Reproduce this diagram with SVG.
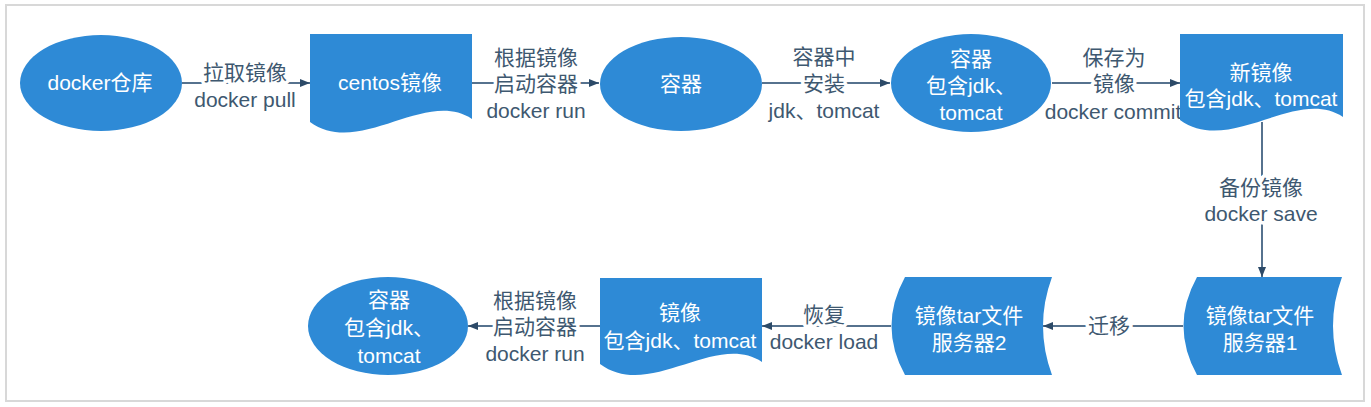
<svg xmlns="http://www.w3.org/2000/svg" width="1371" height="407" viewBox="0 0 1371 407">
<style>
.n{fill:#2e8ad6}
.t{font-family:"Liberation Sans","Noto Sans CJK SC",sans-serif;font-size:21px;fill:#ffffff;text-anchor:middle;dominant-baseline:central}
.l{font-family:"Liberation Sans","Noto Sans CJK SC",sans-serif;font-size:21px;fill:#3e5870;text-anchor:middle;dominant-baseline:central;stroke:#ffffff;stroke-width:7;stroke-linejoin:round;paint-order:stroke}
.e{stroke:#56728e;stroke-width:2;fill:none;marker-end:url(#a)}
</style>
<defs>
<marker id="a" viewBox="0 0 10 10" refX="10" refY="5" markerWidth="10" markerHeight="10" markerUnits="userSpaceOnUse" orient="auto">
<path d="M0,1 L10,5 L0,9 Z" fill="#2c4a68"/>
</marker>
</defs>
<rect x="0" y="0" width="1371" height="407" fill="#ffffff"/>
<rect x="6" y="5" width="1358" height="396" fill="none" stroke="#d8d8d8" stroke-width="2"/>
<g id="connectors">
<path class="e" d="M182,83 H310"/>
<path class="e" d="M472,83 H599"/>
<path class="e" d="M762,83 H890"/>
<path class="e" d="M1052,83 H1180"/>
<path class="e" d="M1262,122 V277"/>
<path class="e" d="M1183,326 H1043"/>
<path class="e" d="M891,326 H762"/>
<path class="e" d="M600,326 H468"/>
<rect x="1238" y="176" width="48" height="48" fill="#ffffff"/>
<text class="l" x="245" y="72">拉取镜像</text>
<text class="l" x="245" y="99">docker pull</text>
<text class="l" x="536" y="57">根据镜像</text>
<text class="l" x="536" y="83">启动容器</text>
<text class="l" x="536" y="110">docker run</text>
<text class="l" x="824" y="56">容器中</text>
<text class="l" x="824" y="83">安装</text>
<text class="l" x="824" y="110">jdk、tomcat</text>
<text class="l" x="1114" y="57">保存为</text>
<text class="l" x="1114" y="83">镜像</text>
<text class="l" x="1113" y="111">docker commit</text>
<text class="l" x="1261" y="187">备份镜像</text>
<text class="l" x="1261" y="213">docker save</text>
<text class="l" x="1109" y="325">迁移</text>
<text class="l" x="824" y="314">恢复</text>
<text class="l" x="824" y="341">docker load</text>
<text class="l" x="535" y="300">根据镜像</text>
<text class="l" x="535" y="326">启动容器</text>
<text class="l" x="535" y="353">docker run</text>
</g>
<g id="n1">
<ellipse class="n" cx="101" cy="83" rx="81" ry="48"/>
<text class="t" x="100" y="82">docker仓库</text>
</g>
<g id="n2">
<path class="n" d="M310,34 H472 V119 C425,88 360,158 310,122 Z"/>
<text class="t" x="390" y="82">centos镜像</text>
</g>
<g id="n3">
<ellipse class="n" cx="681" cy="84" rx="81" ry="47"/>
<text class="t" x="681" y="83">容器</text>
</g>
<g id="n4">
<ellipse class="n" cx="971" cy="83" rx="80" ry="49"/>
<text class="t" x="971" y="58">容器</text>
<text class="t" x="971" y="85">包含jdk、</text>
<text class="t" x="971" y="112">tomcat</text>
</g>
<g id="n5">
<path class="n" d="M1180,34 H1343 V117 C1296,86 1230,156 1180,120 Z"/>
<text class="t" x="1261" y="72">新镜像</text>
<text class="t" x="1261" y="98">包含jdk、tomcat</text>
</g>
<g id="n6">
<path class="n" d="M1197,277 H1342 Q1324,326 1342,375 H1197 Q1170,326 1197,277 Z"/>
<text class="t" x="1260" y="315">镜像tar文件</text>
<text class="t" x="1260" y="342">服务器1</text>
</g>
<g id="n7">
<path class="n" d="M905,277 H1052 Q1034,326 1052,375 H905 Q878,326 905,277 Z"/>
<text class="t" x="969" y="315">镜像tar文件</text>
<text class="t" x="969" y="342">服务器2</text>
</g>
<g id="n8">
<path class="n" d="M600,278 H762 V362 C715,331 650,401 600,364 Z"/>
<text class="t" x="680" y="312">镜像</text>
<text class="t" x="680" y="340">包含jdk、tomcat</text>
</g>
<g id="n9">
<ellipse class="n" cx="388" cy="326" rx="80" ry="49"/>
<text class="t" x="389" y="299">容器</text>
<text class="t" x="389" y="327">包含jdk、</text>
<text class="t" x="389" y="355">tomcat</text>
</g>
</svg>
